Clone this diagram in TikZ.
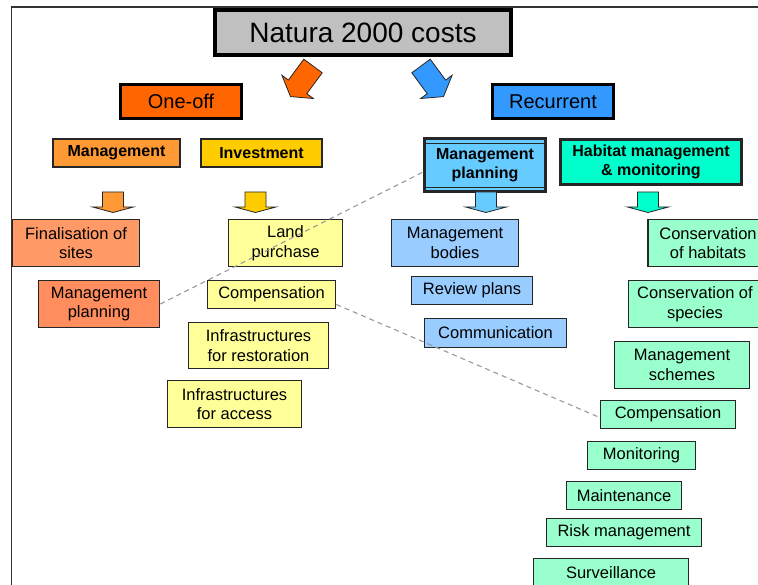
\documentclass[tikz,border=0pt]{standalone}
\usepackage{fontspec}
\setmainfont{Liberation Sans}
\definecolor{cgray}{HTML}{C0C0C0}
\definecolor{corange}{HTML}{FF6600}
\definecolor{cblue}{HTML}{3399FF}
\definecolor{cmgmt}{HTML}{FF9933}
\definecolor{cinvest}{HTML}{FFCC00}
\definecolor{cplan}{HTML}{66CCFF}
\definecolor{chab}{HTML}{00FFCC}
\definecolor{csalmon}{HTML}{FF9966}
\definecolor{cyell}{HTML}{FFFF99}
\definecolor{clblue}{HTML}{99CCFF}
\definecolor{cmint}{HTML}{99FFCC}
\tikzset{
  bx/.style={draw=black!85, line width=1.6pt, inner sep=0pt, align=center,
     font=\fontsize{16.5}{19.5}\selectfont},
  bold/.style={bx, line width=2.2pt, font=\fontsize{16}{19}\selectfont\bfseries},
  big/.style={draw=black, line width=3.2pt, inner sep=0pt, font=\fontsize{20}{24}\selectfont},
  dlink/.style={draw=black!40, dashed, dash pattern=on 5pt off 4pt, line width=1.1pt},
  barrow/.style={draw=black!85, line width=0.8pt},
}
\begin{document}
\begin{tikzpicture}[x=1pt,y=-1pt]
\useasboundingbox (0,0) rectangle (758,585);
\clip (0,0) rectangle (758,585);
\fill[white] (0,0) rectangle (758,585);
% frame
\draw[line width=1.5pt, black!80] (11.5,590) -- (11.5,7) -- (765,7);
% title
\node[draw=black, line width=4pt, fill=cgray, minimum width=296pt, minimum height=45pt,
      inner sep=0pt, font=\fontsize{28}{32}\selectfont] (title) at (363,32.5) {Natura 2000 costs};
% big arrows
\draw[barrow, fill=corange] (303.8,59.2) -- (322.2,72.8) -- (306.8,93.7) -- (313.3,98.5)
   -- (290.5,96.6) -- (281.9,75.3) -- (288.4,80.1) -- cycle;
\draw[barrow, fill=cblue] (430.2,59.2) -- (411.8,72.8) -- (427.2,93.7) -- (420.7,98.5)
   -- (443.5,96.6) -- (452.1,75.3) -- (445.6,80.1) -- cycle;
% level 1
\node[big, fill=corange, minimum width=121pt, minimum height=34pt] (oneoff) at (181,101.5) {One-off};
\node[big, fill=cblue, minimum width=121pt, minimum height=34pt] (recur) at (553,101.5) {Recurrent};
% level 2
\node[bold, fill=cmgmt, minimum width=127pt, minimum height=28pt] (mgmt) at (116.5,153) {Management};
\node[bold, fill=cinvest, minimum width=121pt, minimum height=28pt] (invest) at (261.5,153) {Investment};
\node[bold, line width=2.6pt, fill=cplan, minimum width=121pt, minimum height=53pt] (mplan) at (485,165) {Management\\planning};
\draw[line width=0.9pt, black!85] ([yshift=-6pt]mplan.north west) -- ([yshift=-6pt]mplan.north east);
\draw[line width=0.9pt, black!85] ([yshift=5pt]mplan.south west) -- ([yshift=5pt]mplan.south east);
\node[bold, line width=2.6pt, fill=chab, minimum width=181pt, minimum height=45pt] (habitat) at (651,162) {Habitat management\\\& monitoring};
% small arrows
\foreach \cx/\col in {113/cmgmt, 255.5/cinvest, 486/cplan, 648/chab}{
  \draw[barrow, fill=\col] (\cx-10.5,192) -- (\cx+10.5,192) -- (\cx+10.5,207) -- (\cx+20.5,207)
     -- (\cx,212.5) -- (\cx-20.5,207) -- (\cx-10.5,207) -- cycle;
}
% one-off children
\node[bx, fill=csalmon, minimum width=127pt, minimum height=47pt] (final) at (76,243) {Finalisation of\\sites};
\node[bx, fill=csalmon!92!red, minimum width=121pt, minimum height=47pt] (mplanL) at (99,304) {Management\\planning};
\node[bx, fill=cyell, minimum width=114pt, minimum height=47pt] (land) at (285.5,243) {Land\\purchase};
\node[bx, fill=cyell, minimum width=128pt, minimum height=28pt] (compL) at (271.5,294.5) {Compensation};
\node[bx, fill=cyell, minimum width=140pt, minimum height=46pt] (infres) at (258.5,345.5) {Infrastructures\\for restoration};
\node[bx, fill=cyell, minimum width=134pt, minimum height=47pt] (infacc) at (234.5,404) {Infrastructures\\for access};
% recurrent children
\node[bx, fill=clblue, minimum width=127pt, minimum height=47pt] (mbodies) at (455,243) {Management\\bodies};
\node[bx, fill=clblue, minimum width=121pt, minimum height=28pt] (review) at (472,290.5) {Review plans};
\node[bx, fill=clblue, minimum width=142pt, minimum height=29pt] (comm) at (495.5,333) {Communication};
\node[bx, fill=cmint, minimum width=120pt, minimum height=47pt] (conshab) at (708,243) {Conservation\\of habitats};
\node[bx, fill=cmint, minimum width=133pt, minimum height=47pt] (consspec) at (695,304) {Conservation of\\species};
\node[bx, fill=cmint, minimum width=135pt, minimum height=47pt] (mschemes) at (682,365) {Management\\schemes};
\node[bx, fill=cmint, minimum width=135pt, minimum height=28pt] (compR) at (668,414.5) {Compensation};
\node[bx, fill=cmint, minimum width=108pt, minimum height=28pt] (monit) at (641.5,455.5) {Monitoring};
\node[bx, fill=cmint, minimum width=115pt, minimum height=28pt] (maint) at (624,495.5) {Maintenance};
\node[bx, fill=cmint, minimum width=155pt, minimum height=28pt] (risk) at (624,532.5) {Risk management};
\node[bx, fill=cmint, minimum width=155pt, minimum height=28pt] (surv) at (611,572.5) {Surveillance};
% dashed links
\draw[dlink] (mplanL.east) -- ([yshift=-7pt]mplan.west);
\draw[dlink] ([yshift=-10pt]compL.east) -- ([yshift=-3pt]compR.west);
\end{tikzpicture}
\end{document}
